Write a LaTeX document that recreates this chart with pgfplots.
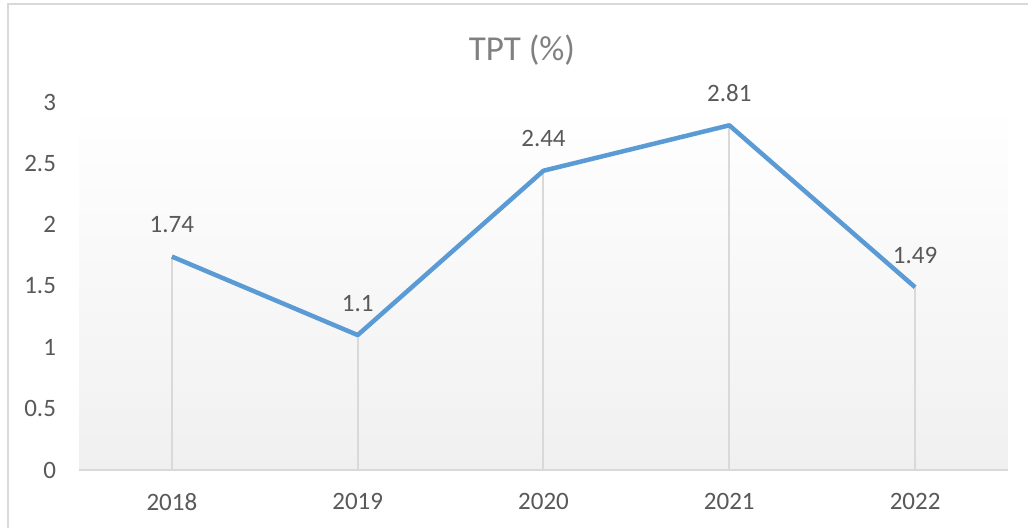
\documentclass[border=0pt]{standalone}
\usepackage{fontspec}
\setmainfont{Carlito}
\usepackage{pgfplots}
\pgfplotsset{compat=1.18}
\definecolor{lineblue}{HTML}{5B9BD5}
\definecolor{txtgray}{HTML}{595959}
\definecolor{titlegray}{HTML}{808080}
\definecolor{dropgray}{HTML}{D9D9D9}
\definecolor{bgbottom}{HTML}{F0F0F0}
\begin{document}
\begin{tikzpicture}
\useasboundingbox (0,0) rectangle (514pt,263.5pt);
\fill[white] (0,0) rectangle (514pt,263.5pt);
\draw[dropgray, line width=0.75pt] (4pt,-2pt) -- (4pt,261.5pt) -- (516pt,261.5pt);
\node[text=titlegray, font=\fontsize{17.5}{20}\selectfont] at (261pt,238.5pt) {TPT (\%)};
\begin{axis}[
  at={(39.5pt,28.5pt)}, anchor=south west,
  scale only axis, width=464.5pt, height=184pt,
  xmin=-0.5, xmax=4.5, ymin=0, ymax=3,
  xtick={0,1,2,3,4}, xticklabels={2018,2019,2020,2021,2022},
  ytick={0,0.5,1,1.5,2,2.5,3},
  yticklabels={0,0.5,1,1.5,2,2.5,3},
  major tick length=0pt,
  axis x line*=bottom, axis y line*=left,
  x axis line style={-, dropgray, line width=1pt},
  y axis line style={draw=none},
  ticklabel style={font=\fontsize{12.5}{14}\selectfont, text=txtgray},
  xticklabel style={yshift=-8pt},
  yticklabel style={xshift=-8pt},
  axis background/.style={shade, top color=white, bottom color=bgbottom},
  clip=false,
  /pgf/number format/assume math mode=true,
]
\addplot[ycomb, dropgray, line width=1pt, mark=none] coordinates {(0,1.74) (1,1.1) (2,2.44) (3,2.81) (4,1.49)};
\addplot[lineblue, line width=2.25pt, line join=round, mark=none,
  nodes near coords,
  point meta=explicit symbolic,
  every node near coord/.append style={anchor=center, yshift=16pt, text=txtgray, font=\fontsize{12.5}{14}\selectfont}]
  coordinates {(0,1.74)[1.74] (1,1.1)[1.1] (2,2.44)[2.44] (3,2.81)[2.81] (4,1.49)[1.49]};
\end{axis}
\end{tikzpicture}
\end{document}
